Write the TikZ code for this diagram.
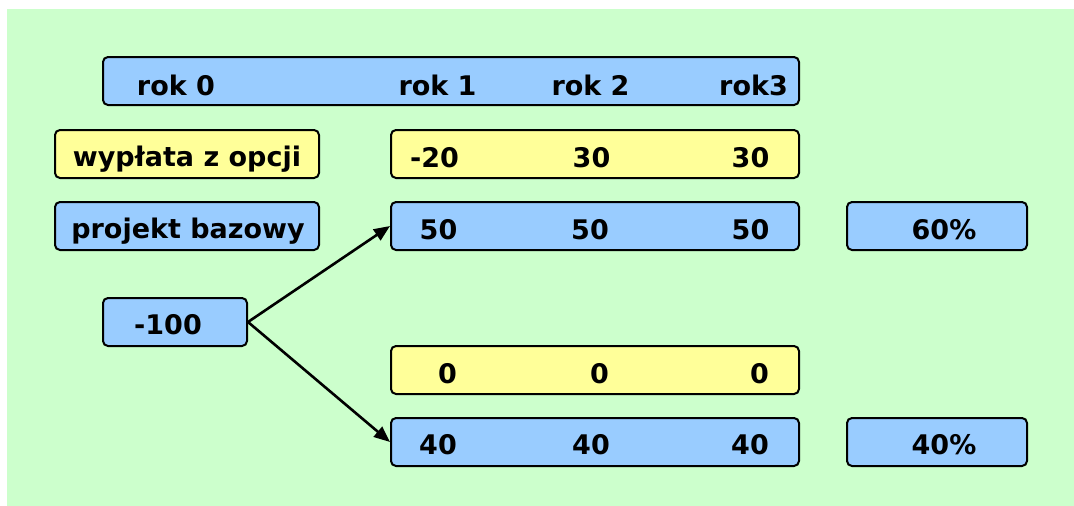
\documentclass[tikz,border=0pt]{standalone}
\usepackage{fontspec}
\setmainfont{DejaVu Sans}
\usetikzlibrary{arrows.meta}
\definecolor{bggreen}{HTML}{CCFFCC}
\definecolor{boxblue}{HTML}{99CCFF}
\definecolor{boxyellow}{HTML}{FFFF99}
\tikzset{
  box/.style={draw=black, line width=2pt, rounded corners=5pt, inner sep=0pt},
  bluebox/.style={box, fill=boxblue},
  yellowbox/.style={box, fill=boxyellow},
  lbl/.style={anchor=base, inner sep=0pt, font=\fontsize{27}{31}\selectfont\bfseries},
  arr/.style={line width=2.6pt, -{Triangle[length=16pt,width=13pt]}}
}
\begin{document}
\begin{tikzpicture}[x=1pt,y=-1pt]
\useasboundingbox (0,0) rectangle (1074,506);
\fill[bggreen] (7,9) rectangle (1074,506);
% boxes
\node[bluebox, minimum width=696pt, minimum height=48pt] (top) at (451,81) {};
\node[yellowbox, minimum width=264pt, minimum height=48pt] (wyp) at (187,154) {};
\node[yellowbox, minimum width=408pt, minimum height=48pt] (ry) at (595,154) {};
\node[bluebox, minimum width=264pt, minimum height=48pt] (proj) at (187,226) {};
\node[bluebox, minimum width=408pt, minimum height=48pt] (r50) at (595,226) {};
\node[bluebox, minimum width=180pt, minimum height=48pt] (p60) at (937,226) {};
\node[bluebox, minimum width=144pt, minimum height=48pt] (m100) at (175,322) {};
\node[yellowbox, minimum width=408pt, minimum height=48pt] (r0) at (595,370) {};
\node[bluebox, minimum width=408pt, minimum height=48pt] (r40) at (595,442) {};
\node[bluebox, minimum width=180pt, minimum height=48pt] (p40) at (937,442) {};
% labels
\node[lbl] (t0) at (176,95) {rok 0};
\node[lbl] (t1) at (437.5,95) {rok 1};
\node[lbl] (t2) at (590.5,95) {rok 2};
\node[lbl] (t3) at (753.5,95) {rok3};
\node[lbl] (twyp) at (187,166) {wypłata z opcji};
\node[lbl] (y1) at (434.5,167) {-20};
\node[lbl] (y2) at (591.5,167) {30};
\node[lbl] (y3) at (750.5,167) {30};
\node[lbl] (tproj) at (188,238) {projekt bazowy};
\node[lbl] (b1) at (438.5,239) {50};
\node[lbl] (b2) at (590,239) {50};
\node[lbl] (b3) at (750.5,239) {50};
\node[lbl] (t60) at (944,239) {60\%};
\node[lbl] (tm100) at (168,334) {-100};
\node[lbl] (z1) at (447.5,383) {0};
\node[lbl] (z2) at (599.5,383) {0};
\node[lbl] (z3) at (759.5,383) {0};
\node[lbl] (c1) at (438,454) {40};
\node[lbl] (c2) at (591,454) {40};
\node[lbl] (c3) at (750,454) {40};
\node[lbl] (t40) at (944,454) {40\%};
% arrows
\draw[arr] (m100.east) -- (r50.west);
\draw[arr] (m100.east) -- (r40.west);
\end{tikzpicture}
\end{document}
